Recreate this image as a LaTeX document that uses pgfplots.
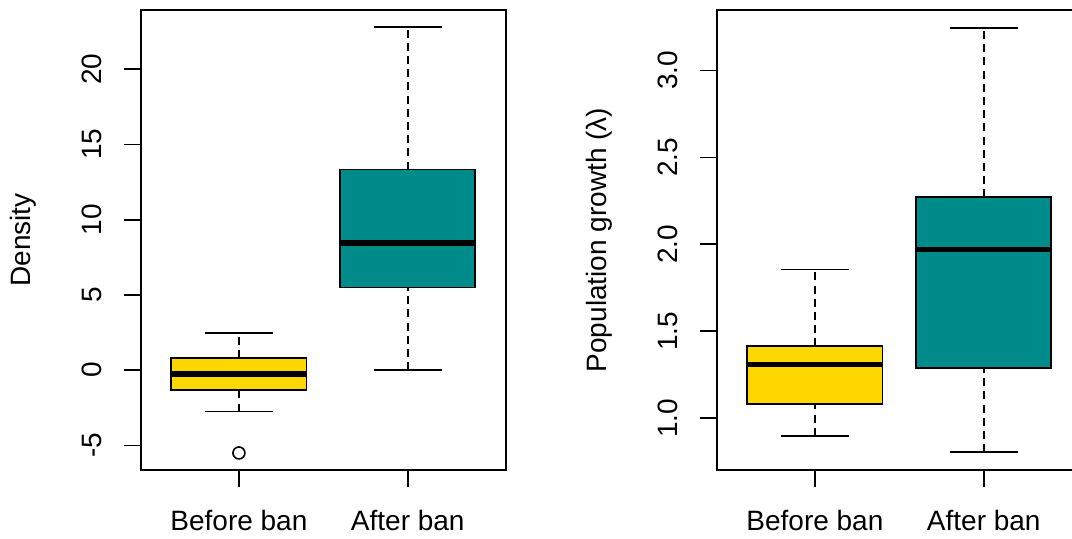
\documentclass[border=0pt]{standalone}
\usepackage{pgfplots}
\pgfplotsset{compat=1.18}
\usepgfplotslibrary{statistics}
\usepackage{fontspec}
\setmainfont{Liberation Sans}
\definecolor{boxgold}{HTML}{FFD700}
\definecolor{boxteal}{HTML}{008B8B}
\tikzset{
  rwhisk/.style={black, line width=0.9pt, dash pattern=on 4pt off 2.6pt},
  rcap/.style={black, line width=0.9pt, solid},
}
\pgfplotsset{
  boxplot/draw/lower whisker/.code={%
      \draw[rwhisk] (boxplot box cs:\pgfplotsboxplotvalue{lower whisker},0.5) -- (boxplot box cs:\pgfplotsboxplotvalue{lower quartile},0.5);
      \draw[rcap] (boxplot whisker cs:\pgfplotsboxplotvalue{lower whisker},0) -- (boxplot whisker cs:\pgfplotsboxplotvalue{lower whisker},1);
  },
  boxplot/draw/upper whisker/.code={%
      \draw[rwhisk] (boxplot box cs:\pgfplotsboxplotvalue{upper quartile},0.5) -- (boxplot box cs:\pgfplotsboxplotvalue{upper whisker},0.5);
      \draw[rcap] (boxplot whisker cs:\pgfplotsboxplotvalue{upper whisker},0) -- (boxplot whisker cs:\pgfplotsboxplotvalue{upper whisker},1);
  },
  boxplot/draw/median/.code={%
      \draw[black, solid, line width=2.7pt, line cap=butt] (boxplot box cs:\pgfplotsboxplotvalue{median},0) -- (boxplot box cs:\pgfplotsboxplotvalue{median},1);
  },
  boxplot/draw direction=y,
  boxplot/box extend=0.8,
  boxplot/whisker extend=0.4,
  rbox/.style={
    black, line width=0.9pt,
    boxplot/draw direction=y,
    mark=o, mark size=3pt, mark options={solid, line width=0.8pt, black},
    boxplot/every box/.style={draw=black, line width=0.9pt, fill=#1},
  },
  rpanel/.style={
    scale only axis, width=182.35pt, height=230pt,
    xmin=0.42, xmax=2.58,
    xtick={1,2}, xticklabels={Before ban,After ban},
    xtick pos=bottom, ytick pos=left,
    tick align=outside, major tick length=8.5pt,
    axis line style={line width=0.9pt, black},
    every tick/.style={line width=0.9pt, black},
    minor tick num=0,
    font=\fontsize{14}{16}\selectfont,
    ticklabel style={font=\fontsize{14}{16}\selectfont},
    /pgf/number format/assume math mode=true,
    yticklabel style={rotate=90, anchor=center, yshift=16pt},
    xticklabel style={anchor=base, yshift=-22pt},
    every axis y label/.style={at={(axis description cs:0,0.5)}, rotate=90, anchor=center, yshift=59pt, font=\fontsize{14}{16}\selectfont},
  },
}
\begin{document}
\begin{tikzpicture}
\begin{axis}[rpanel, at={(70.5pt,34.5pt)}, anchor=south west,
  ymin=-6.632, ymax=23.932, ytick={-5,0,5,10,15,20},
  ylabel={Density}]
\addplot[rbox=boxgold, boxplot prepared={draw position=1,
  lower whisker=-2.75, lower quartile=-1.33, median=-0.25,
  upper quartile=0.82, upper whisker=2.49}]
  table[row sep=\\, y index=0] {-5.5\\};
\addplot[rbox=boxteal, boxplot prepared={draw position=2,
  lower whisker=0.0, lower quartile=5.49, median=8.44,
  upper quartile=13.33, upper whisker=22.8}]
  coordinates {};
\end{axis}
\begin{axis}[rpanel, at={(358.5pt,34.5pt)}, anchor=south west,
  ymin=0.702, ymax=3.348, ytick={1.0,1.5,2.0,2.5,3.0},
  yticklabel style={/pgf/number format/.cd, fixed, fixed zerofill, precision=1},
  ylabel={Population growth (λ)}]
\addplot[rbox=boxgold, boxplot prepared={draw position=1,
  lower whisker=0.899, lower quartile=1.083, median=1.31,
  upper quartile=1.413, upper whisker=1.855}]
  coordinates {};
\addplot[rbox=boxteal, boxplot prepared={draw position=2,
  lower whisker=0.804, lower quartile=1.29, median=1.972,
  upper quartile=2.27, upper whisker=3.246}]
  coordinates {};
\end{axis}
\pgfresetboundingbox
\useasboundingbox (0,0) rectangle (536pt,269.5pt);
\end{tikzpicture}
\end{document}
